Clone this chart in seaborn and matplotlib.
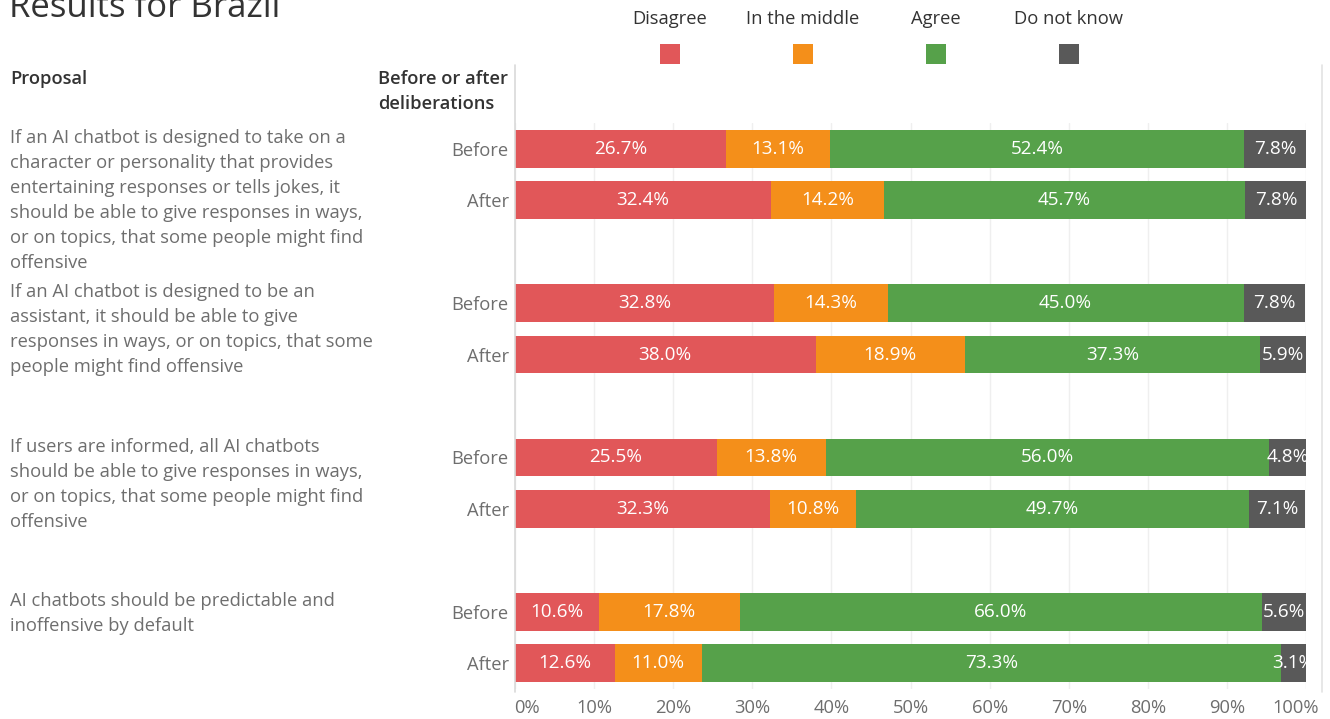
import matplotlib
matplotlib.use("Agg")
import matplotlib.pyplot as plt
from matplotlib.patches import Rectangle
from matplotlib.lines import Line2D
from matplotlib.transforms import blended_transform_factory, ScaledTranslation
import seaborn as sns
import pandas as pd

# ---- data -------------------------------------------------------------
responses = ["Disagree", "In the middle", "Agree", "Do not know"]
colors = ["#E15759", "#F48F1A", "#56A14A", "#595959"]

proposals = [
    "If an AI chatbot is designed to take on a\ncharacter or personality that provides\n"
    "entertaining responses or tells jokes, it\nshould be able to give responses in ways,\n"
    "or on topics, that some people might find\noffensive",
    "If an AI chatbot is designed to be an\nassistant, it should be able to give\n"
    "responses in ways, or on topics, that some\npeople might find offensive",
    "If users are informed, all AI chatbots\nshould be able to give responses in ways,\n"
    "or on topics, that some people might find\noffensive",
    "AI chatbots should be predictable and\ninoffensive by default",
]
stages = ["Before", "After"]

# one entry per (proposal, stage) row, in display order
disagree = [26.7, 32.4, 32.8, 38.0, 25.5, 32.3, 10.6, 12.6]
middle = [13.1, 14.2, 14.3, 18.9, 13.8, 10.8, 17.8, 11.0]
agree = [52.4, 45.7, 45.0, 37.3, 56.0, 49.7, 66.0, 73.3]
dont_know = [7.8, 7.8, 7.8, 5.9, 4.8, 7.1, 5.6, 3.1]

x_ticks = [0, 10, 20, 30, 40, 50, 60, 70, 80, 90, 100]

# ---- layout helpers ---------------------------------------------------
W, H = 1330, 719
FONT = ["Open Sans", "DejaVu Sans"]
FS = 13.2
FS_BAR = 13.6
GREY = "#6E6E6E"
DARK = "#333333"


def fx(px):
    return px / W


def fy(py):
    return 1 - py / H


sns.set_theme(style="white")
plt.rcParams["font.family"] = FONT

# rows: proposal g, stage s -> y position with a blank slot between groups
positions = [g * 3 + s for g in range(len(proposals)) for s in range(len(stages))]
series = [disagree, middle, agree, dont_know]

records = []
for i, pos in enumerate(positions):
    left = 0.0
    for resp, vals in zip(responses, series):
        v = vals[i]
        records.append(dict(pos=pos, response=resp, value=v, left=left, right=left + v))
        left += v
df = pd.DataFrame(records)

fig = plt.figure(figsize=(W / 100, H / 100), dpi=100)
ax = fig.add_axes([fx(515), fy(689), fx(1306) - fx(515), fy(123) - fy(689)])

# stacked bars: draw cumulative extents from the last segment backwards
for resp, col in reversed(list(zip(responses, colors))):
    sub = df[df["response"] == resp]
    sns.barplot(data=sub, x="right", y="pos", orient="y", native_scale=True,
                color=col, saturation=1, width=0.73, errorbar=None,
                linewidth=0, ax=ax)

for _, r in df.iterrows():
    ax.text(r["left"] + r["value"] / 2, r["pos"], f"{r['value']:.1f}%",
            ha="center", va="center", color="white", fontsize=FS_BAR,
            family=FONT, clip_on=True)

ax.set_xlim(0, 100)
ax.set_ylim(10.5, -0.5)
ax.set_xlabel("")
ax.set_ylabel("")
for sp in ax.spines.values():
    sp.set_visible(False)

ax.set_xticks(x_ticks)
ax.set_xticklabels([f"{t}%" for t in x_ticks], color=GREY, fontsize=FS)
ax.set_yticks(positions)
ax.set_yticklabels([stages[s] for _ in proposals for s in range(len(stages))],
                   color=GREY, fontsize=FS)
ax.tick_params(axis="both", length=0)
ax.tick_params(axis="y", pad=4.5)
ax.tick_params(axis="x", pad=7)
ax.xaxis.grid(True, color="#EFEFEF", linewidth=1)
ax.set_axisbelow(True)

xlabels = ax.get_xticklabels()
xlabels[0].set_transform(xlabels[0].get_transform() + ScaledTranslation(12 / 100, 0, fig.dpi_scale_trans))
xlabels[-1].set_transform(xlabels[-1].get_transform() + ScaledTranslation(-10 / 100, 0, fig.dpi_scale_trans))

# pane borders
fig.add_artist(Line2D([fx(515), fx(515)], [fy(65), fy(692)], color="#D9D9D9", linewidth=1.2))
fig.add_artist(Line2D([fx(1322), fx(1322)], [fy(65), fy(692)], color="#E3E3E3", linewidth=1.2))

# proposal texts, one line at a time alongside each group
trans = blended_transform_factory(fig.transFigure, ax.transData)
step = 25 / 51.45
for g, text in enumerate(proposals):
    for k, line in enumerate(text.split("\n")):
        ax.text(fx(10), g * 3 - 0.21 + k * step, line, transform=trans,
                ha="left", va="center", color=GREY, fontsize=FS,
                family=FONT, clip_on=False)

# headers
for px, py, label in [(10, 79, "Proposal"), (378, 79, "Before or after"),
                      (378, 104, "deliberations")]:
    fig.text(fx(px), fy(py), label, ha="left", va="center", color=DARK,
             fontsize=FS, fontweight="semibold")

# title (sits at the very top edge)
fig.text(fx(9), fy(17), "Results for Brazil", ha="left", va="baseline",
         color=DARK, fontsize=25)

# legend
leg_x = [670, 803, 936, 1069]
for cx, resp, col in zip(leg_x, responses, colors):
    fig.text(fx(cx), fy(19), resp, ha="center", va="center", color=DARK,
             fontsize=FS)
    fig.add_artist(Rectangle((fx(cx - 10), fy(64)), 20 / W, 20 / H,
                             transform=fig.transFigure, facecolor=col,
                             edgecolor="none"))

fig.savefig("out.png", dpi=100)
